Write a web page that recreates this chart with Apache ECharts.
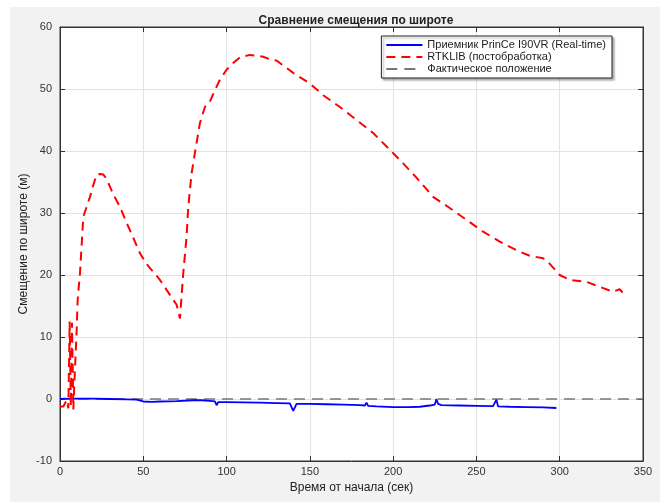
<!DOCTYPE html>
<html>
<head>
<meta charset="utf-8">
<script src="https://cdn.jsdelivr.net/npm/echarts@6/dist/echarts.min.js"></script>
<style>
  html, body { margin: 0; padding: 0; background: #fff; }
  #paper { position: absolute; left: 10px; top: 7px; width: 650px; height: 495px; background: #f2f2f2; }
  #main { position: absolute; left: 0; top: 0; width: 663px; height: 502px; }
</style>
</head>
<body>
<div id="paper"></div>
<div id="main"></div>
<script>
// время (сек), смещение (м)
const rtklibData = [
  [0, -1.2], [2, -1.2], [4, -0.2], [5, -1.5], [5.8, 12.5], [6.5, -1.2], [7.2, 12.3], [8, -1.7],
  [9, 5], [10, 11], [10.6, 16], [12, 20.3], [14, 29.4], [16, 31], [18, 32.6], [20, 34.5],
  [22, 36.2], [24, 36.3], [26, 36.2], [28, 35.5], [32, 33], [36, 31], [40, 28.4], [44, 26],
  [48, 23.5], [52, 21.8], [54, 21.1], [57, 20.2], [60, 19.2], [64, 17.6], [68, 16], [70, 15.2],
  [72, 13], [74, 20.3], [76, 26.2], [77, 31], [79, 36.4], [81, 39.7], [84, 44.5], [87, 47.1],
  [90, 48], [93, 49.8], [96, 51.5], [100, 53.1], [104, 54.2], [108, 55.1], [114, 55.5], [122, 55.2],
  [127, 54.7], [130, 54.6], [132, 54.2], [140, 52.6], [150, 50.9], [158, 49], [168, 47.1], [178, 45],
  [188, 42.9], [198, 40.2], [206, 38], [214, 35.7], [224, 32.6], [234, 30.8], [244, 28.9], [254, 27],
  [264, 25.4], [274, 24], [282, 23.1], [290, 22.7], [293, 22.1], [300, 20], [306, 19.2], [316, 18.9],
  [324, 18.1], [332, 17.3], [336, 17.7], [338, 17.1]
];

const princeData = [
  [0, 0], [5, 0.05], [10, 0.05], [20, 0.05], [30, 0], [40, -0.05], [46, -0.1], [50, -0.4],
  [55, -0.45], [60, -0.4], [70, -0.35], [80, -0.2], [85, -0.2], [90, -0.3], [93, -0.4], [94, -1.0],
  [95, -0.5], [100, -0.5], [110, -0.55], [120, -0.6], [130, -0.65], [138, -0.7], [139, -0.75], [140, -1.9],
  [141, -1.9], [142, -0.8], [150, -0.8], [160, -0.85], [170, -0.9], [180, -1.0], [183, -1.05], [184, -0.6],
  [185, -1.1], [190, -1.2], [200, -1.3], [210, -1.3], [216, -1.25], [222, -1.05], [225, -0.9], [226, 0],
  [227, -0.8], [229, -1.0], [240, -1.05], [250, -1.1], [260, -1.15], [261, -1.2], [262, -0.1], [263, -1.2],
  [270, -1.25], [280, -1.3], [290, -1.35], [298, -1.45]
];

const truthData = [[0, 0], [350, 0]];

const seriesNames = ['Приемник PrinCe I90VR (Real-time)', 'RTKLIB (постобработка)', 'Фактическое положение'];

const font = 'Liberation Sans, Arial, sans-serif';

const myChart = echarts.init(document.getElementById('main'));
myChart.setOption({
  animation: false,
  textStyle: { fontFamily: font },
  title: {
    text: 'Сравнение смещения по широте',
    left: 351,
    textAlign: 'center',
    top: 10,
    textStyle: { fontSize: 12, fontWeight: 'bold', color: '#222', fontFamily: font }
  },
  legend: {
    data: seriesNames,
    orient: 'vertical',
    right: 51,
    top: 36,
    itemWidth: 36,
    itemHeight: 8,
    itemGap: 0,
    padding: [3, 6, 3, 4],
    backgroundColor: '#fff',
    borderColor: '#222',
    borderWidth: 1,
    shadowColor: 'rgba(0,0,0,0.3)',
    shadowOffsetX: 2,
    shadowOffsetY: 2,
    shadowBlur: 2,
    itemStyle: { opacity: 0 },
    textStyle: { fontSize: 11, color: '#222', fontFamily: font, lineHeight: 12 }
  },
  grid: {
    left: 60, right: 20, top: 27, bottom: 41,
    show: true, backgroundColor: '#fff', borderColor: '#333', borderWidth: 1
  },
  xAxis: [{
    type: 'value', min: 0, max: 350, interval: 50,
    name: 'Время от начала (сек)', nameLocation: 'middle', nameGap: 15,
    nameTextStyle: { fontSize: 12, color: '#222' },
    axisLine: { onZero: false, lineStyle: { color: '#333' } },
    axisTick: { inside: true, length: 5, lineStyle: { color: '#333' } },
    axisLabel: { fontSize: 11, color: '#333', margin: 5 },
    splitLine: { lineStyle: { color: '#e3e3e3' } }
  }, {
    type: 'value', position: 'top', min: 0, max: 350, interval: 50,
    axisLine: { show: true, onZero: false, lineStyle: { color: '#333' } },
    axisTick: { inside: true, length: 5, lineStyle: { color: '#333' } },
    axisLabel: { show: false }, splitLine: { show: false }
  }],
  yAxis: [{
    type: 'value', min: -10, max: 60, interval: 10,
    name: 'Смещение по широте (м)', nameLocation: 'middle', nameGap: 30, nameRotate: 90,
    nameMoveOverlap: false,
    nameTextStyle: { fontSize: 12, color: '#222' },
    axisLine: { show: true, onZero: false, lineStyle: { color: '#333' } },
    axisTick: { show: true, inside: true, length: 5, lineStyle: { color: '#333' } },
    axisLabel: { fontSize: 11, color: '#333', margin: 8 },
    splitLine: { lineStyle: { color: '#e3e3e3' } }
  }, {
    type: 'value', position: 'right', min: -10, max: 60, interval: 10,
    axisLine: { show: true, onZero: false, lineStyle: { color: '#333' } },
    axisTick: { show: true, inside: true, length: 5, lineStyle: { color: '#333' } },
    axisLabel: { show: false }, splitLine: { show: false }
  }],
  series: [
    {
      name: seriesNames[0], type: 'line', data: princeData, symbol: 'none', z: 4,
      itemStyle: { color: '#0000ff' },
      lineStyle: { color: '#0000ff', width: 1.8 }
    },
    {
      name: seriesNames[1], type: 'line', data: rtklibData, symbol: 'none', z: 5,
      itemStyle: { color: '#ff0000' },
      lineStyle: { color: '#ff0000', width: 2, type: [9, 6] }
    },
    {
      name: seriesNames[2], type: 'line', data: truthData, symbol: 'none', z: 3,
      itemStyle: { color: '#555' },
      lineStyle: { color: '#777', width: 1.5, type: [11, 7] }
    }
  ]
});
</script>
</body>
</html>
